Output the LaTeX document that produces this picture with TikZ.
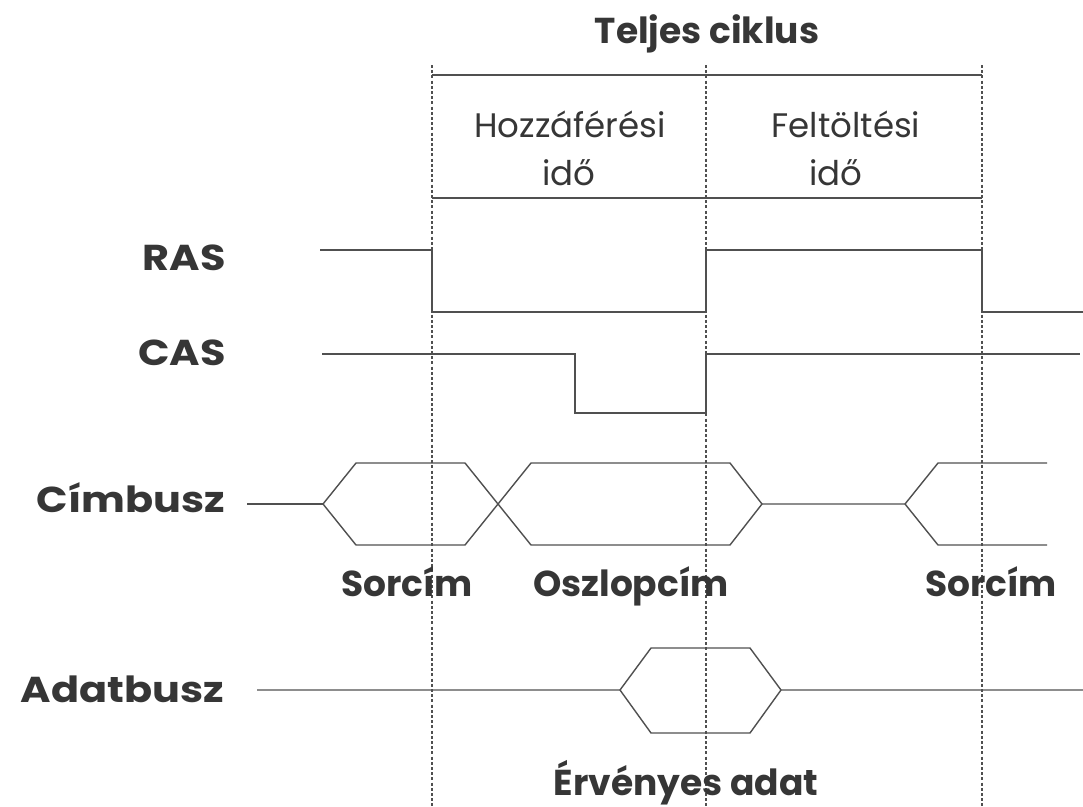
\documentclass[tikz,border=0pt]{standalone}
\usepackage{fontspec}
\setmainfont{Poppins}
\newfontfamily\widefont{Poppins}[FakeStretch=1.15]
\definecolor{tc}{HTML}{363636}
\definecolor{lc}{HTML}{505050}
\begin{document}
\begin{tikzpicture}[x=1pt,y=-1pt,
  sig/.style={line width=1.4pt, draw=lc, line join=miter},
  guide/.style={line width=1.1pt, draw=lc, dash pattern=on 3pt off 2.2pt},
  lab/.style={font=\fontsize{36}{40}\selectfont\bfseries, text=tc, inner sep=0pt},
  sidelab/.style={font=\widefont\fontsize{36}{40}\selectfont\bfseries, text=tc, inner sep=0pt, anchor=base east},
  reg/.style={font=\fontsize{34}{38}\selectfont, text=tc, inner sep=0pt}]
\useasboundingbox[fill=white] (0,0) rectangle (1083,806);

% guide lines
\coordinate (g1t) at (432,65); \coordinate (g1b) at (432,806);
\coordinate (g2t) at (706,65); \coordinate (g2b) at (706,806);
\coordinate (g3t) at (982,65); \coordinate (g3b) at (982,806);
\draw[guide] (g1t) -- (g1b);
\draw[guide] (g2t) -- (g2b);
\draw[guide] (g3t) -- (g3b);
\coordinate (h1a) at (432,75); \coordinate (h1b) at (982,75);
\coordinate (h2a) at (432,198); \coordinate (h2b) at (982,198);
\draw[sig] (h1a) -- (h1b);
\draw[sig] (h2a) -- (h2b);

% texts
\node[lab, anchor=base] (title) at (707,43) {Teljes ciklus};
\node[reg, anchor=base] (acc1) at (570,137) {Hozzáférési};
\node[reg, anchor=base] (acc2) at (569,185) {idő};
\node[reg, anchor=base] (ref1) at (846,137) {Feltöltési};
\node[reg, anchor=base] (ref2) at (836,185) {idő};

\node[sidelab] (ras) at (226,270) {RAS};
\node[sidelab] (cas) at (226,365) {CAS};
\node[sidelab] (cim) at (225,512) {Címbusz};
\node[sidelab] (adat) at (224,702) {Adatbusz};

\node[lab, anchor=base] (sor1) at (407,596) {Sorcím};
\node[lab, anchor=base] (oszl) at (631,596) {Oszlopcím};
\node[lab, anchor=base] (sor2) at (991,596) {Sorcím};
\node[lab, anchor=base] (erv) at (686,795) {Érvényes adat};

% RAS
\draw[sig] (320,250) -- (432,250) -- (432,312) -- (706,312) -- (706,250) -- (982,250) -- (982,312) -- (1083,312);
% CAS
\draw[sig] (322,354) -- (575,354) -- (575,413) -- (706,413) -- (706,354) -- (1080,354);
% Cimbusz
\draw[sig] (247,504) -- (323,504);
\draw[sig] (323,504) -- (356,463) -- (465,463) -- (531,545) -- (730,545) -- (762,504) -- (905,504);
\draw[sig] (323,504) -- (356,545) -- (465,545) -- (531,463) -- (730,463) -- (762,504);
\draw[sig] (905,504) -- (938,463) -- (1047,463);
\draw[sig] (905,504) -- (938,545) -- (1047,545);
% Adatbusz
\draw[sig] (257,690) -- (620,690) -- (651,648) -- (750,648) -- (781,690) -- (1083,690);
\draw[sig] (620,690) -- (651,733) -- (750,733) -- (781,690);
\end{tikzpicture}
\end{document}
